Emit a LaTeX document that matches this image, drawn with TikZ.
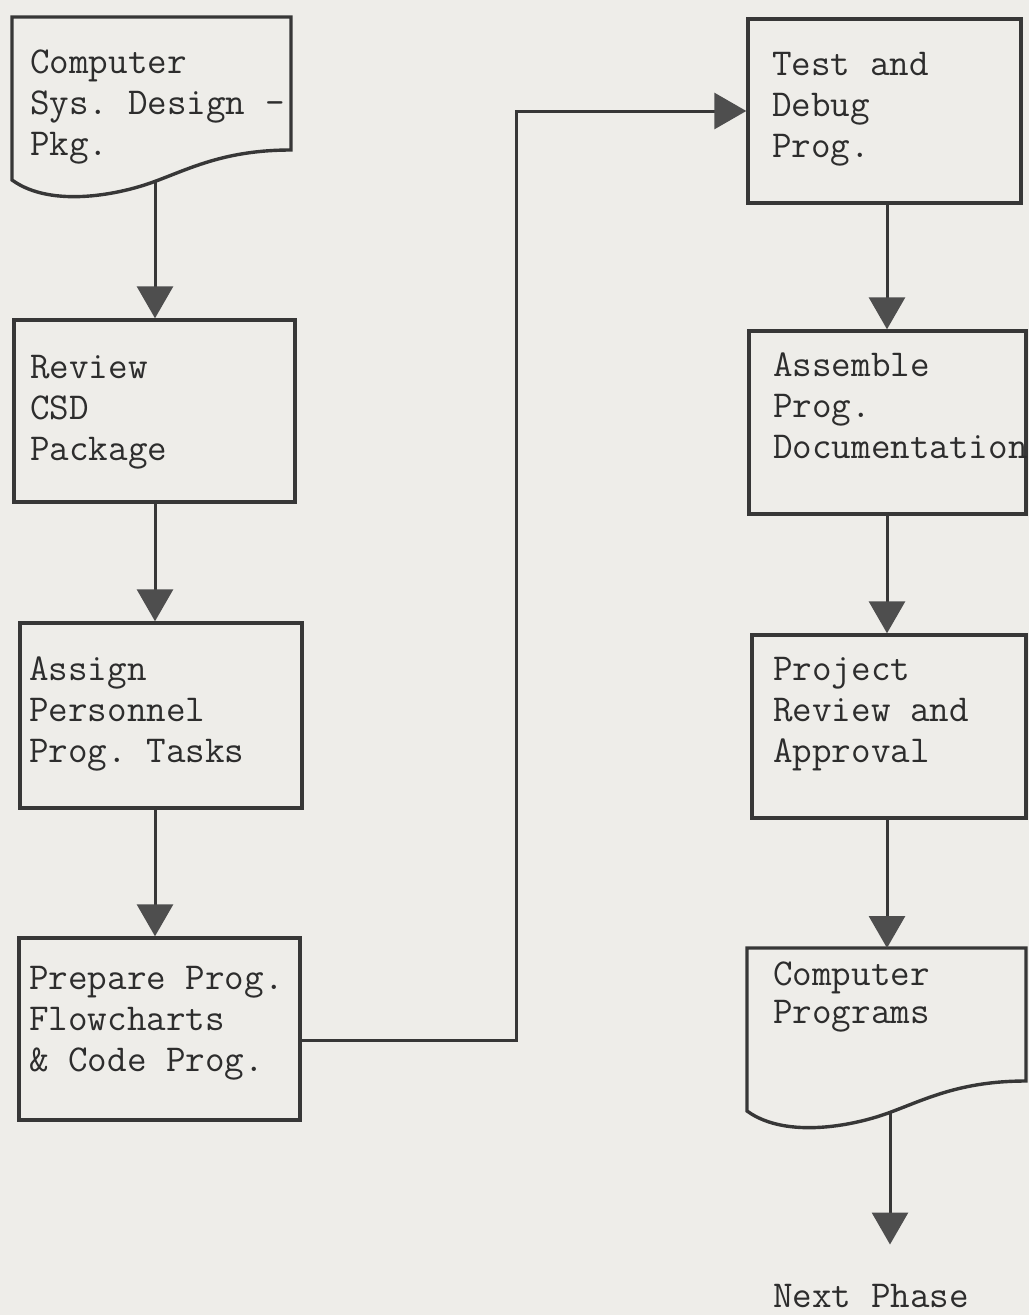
\documentclass[tikz,border=0pt]{standalone}
\usetikzlibrary{arrows.meta,calc,fit}

\definecolor{paper}{RGB}{238,237,233}
\definecolor{ink}{RGB}{55,55,55}
\definecolor{tipgrey}{RGB}{78,78,78}
\definecolor{typeink}{RGB}{45,45,45}

\tikzset{
  boxline/.style={draw=ink, line width=3.4pt, line join=miter},
  stepbox/.style={boxline, rectangle, inner sep=0pt},
  flow/.style={draw=ink, line width=3pt,
    -{Triangle[width=36pt, length=32pt, fill=tipgrey, color=tipgrey]}},
  % typewritten labels, anchored at the baseline of their last line
  typed/.style={anchor=base west, align=left, inner sep=0pt, text=typeink,
    font=\fontsize{38}{41}\selectfont\ttfamily\frenchspacing},
  % document symbol: rectangle with a wavy lower edge
  docshape/.pic={
    \draw[boxline] (0,0) -- (279,0) -- (279,133)
      .. controls (214,133) and (179,151) .. (144,164)
      .. controls (110,177) and (40,192) .. (0,163) -- cycle;
    \coordinate (-out) at (143,164.5);
    \coordinate (-top) at (140,0);
  }
}

\begin{document}
\begin{tikzpicture}[x=1pt, y=-1pt]
  \fill[paper] (0,0) rectangle (1029,1315);
  \useasboundingbox (0,0) rectangle (1029,1315);

  % left column
  \pic (d1) at (12,17) {docshape};
  \node[stepbox, fit={(14,320) (295,502)}] (b2) {};
  \node[stepbox, fit={(20,623) (302,808)}] (b3) {};
  \node[stepbox, fit={(19,938) (300,1120)}] (b4) {};

  % right column
  \node[stepbox, fit={(748,19) (1021,203)}] (b5) {};
  \node[stepbox, fit={(749,331) (1026,514)}] (b6) {};
  \node[stepbox, fit={(752,635) (1026,818)}] (b7) {};
  \pic (d8) at (747,948) {docshape};

  % labels
  \node[typed] (t1) at (30,155) {Computer\\Sys. Design -\\Pkg.};
  \node[typed] (t2) at (30,460) {Review\\CSD\\Package};
  \node[typed] (t3) at (29,762) {Assign\\Personnel\\Prog. Tasks};
  \node[typed] (t4) at (29,1071) {Prepare Prog.\\Flowcharts\\\& Code Prog.};
  \node[typed] (t5) at (772,157) {Test and\\Debug\\Prog.};
  \node[typed] (t6) at (773,458) {Assemble\\Prog.\\Documentation};
  \node[typed] (t7) at (773,762) {Project\\Review and\\Approval};
  \node[typed] (t8) at (773,1023) {Computer\\[-3pt]Programs};
  \node[typed] (next) at (773,1307) {Next Phase};

  % connectors, left column
  \draw[flow] (d1-out) -- (d1-out |- b2.north);
  \draw[flow] (b2.south -| d1-out) -- (b3.north -| d1-out);
  \draw[flow] (b3.south -| d1-out) -- (b4.north -| d1-out);

  % crossover to the right column
  \coordinate (bend) at ($(b5.west)+(-230,0)$);
  \draw[flow] ([yshift=-11pt]b4.east) -| (bend) -- (b5.west);

  % connectors, right column
  \draw[flow] (b5.south -| d8-top) -- (b6.north -| d8-top);
  \draw[flow] (b6.south -| d8-top) -- (b7.north -| d8-top);
  \draw[flow] (b7.south -| d8-top) -- (d8-top);

  % hand-off to the next phase
  \coordinate (nexttip) at ($(d8-out)+(0,132)$);
  \draw[flow] (d8-out) -- (nexttip);
\end{tikzpicture}
\end{document}
